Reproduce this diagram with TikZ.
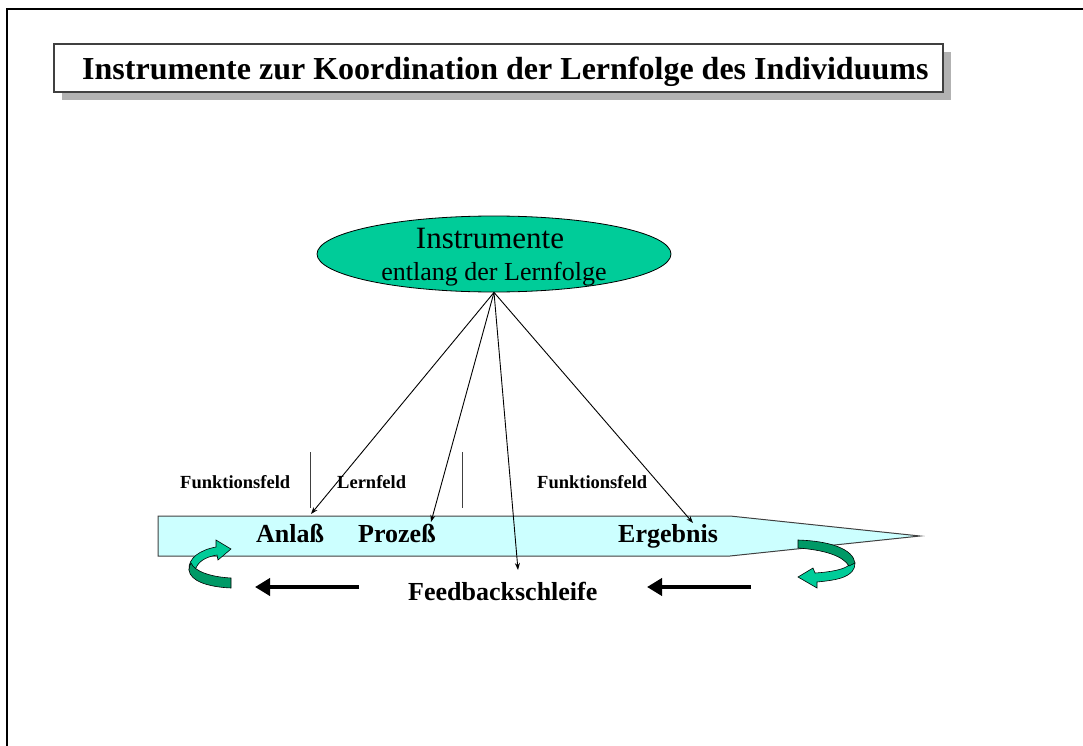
\documentclass[tikz,border=0pt]{standalone}
\usepackage{fontspec}
\setmainfont{Liberation Serif}
\usetikzlibrary{shapes.geometric,arrows.meta}

\definecolor{seagreen}{HTML}{00CC99}
\definecolor{darkseagreen}{HTML}{009966}
\definecolor{bandfill}{HTML}{CCFFFF}
\definecolor{shadowgray}{HTML}{B2B2B2}
\definecolor{edgegray}{HTML}{404040}

\tikzset{
  lbl/.style={inner sep=0pt, anchor=base west, font=\bfseries\fontsize{18.5}{20}\selectfont},
  stage/.style={inner sep=0pt, anchor=base west, font=\bfseries\fontsize{26}{28}\selectfont},
  pointer/.style={line width=0.9pt, -{Stealth[length=7pt,width=5pt]}},
  backflow/.style={line width=4pt, -{Triangle[length=15pt,width=17pt]}},
  divider/.style={line width=1pt, draw=edgegray},
  uturnfront/.style={fill=seagreen, draw=black, line width=0.6pt},
  uturnback/.style={fill=darkseagreen, draw=black, line width=0.6pt}
}

\begin{document}
\begin{tikzpicture}[x=1pt, y=-1pt]
\useasboundingbox (0,0) rectangle (1083,746);

% outer frame (left and top edges)
\draw[line width=2.2pt] (7,746) -- (7,9) -- (1083,9);

% title box with drop shadow
\fill[shadowgray] (62,52) rectangle (951,100);
\draw[fill=white, draw=edgegray, line width=1.5pt] (54,44) rectangle (943,92);
\node[inner sep=0pt, anchor=base west, font=\bfseries\fontsize{32}{34}\selectfont] (title) at (82,80)
  {Instrumente zur Koordination der Lernfolge des Individuums};

% central ellipse
\node[ellipse, fill=seagreen, draw=black, line width=0.8pt, minimum width=354pt, minimum height=76pt, inner sep=0pt] (instr) at (494,254) {};
\node[inner sep=0pt, anchor=base, font=\fontsize{31}{33}\selectfont] (instr1) at (490,248) {Instrumente};
\node[inner sep=0pt, anchor=base, font=\fontsize{26}{28}\selectfont] (instr2) at (494,280) {entlang der Lernfolge};

% learning sequence band
\draw[fill=bandfill, draw=edgegray, line width=1pt]
  (158,516) -- (730,516) -- (920,536) -- (730,556) -- (158,556) -- cycle;

% field dividers and labels
\draw[divider] (310,452) -- (310,508);
\draw[divider] (462,452) -- (462,508);
\node[lbl] (ff1) at (180,488) {Funktionsfeld};
\node[lbl] (lf)  at (337,488) {Lernfeld};
\node[lbl] (ff2) at (537,488) {Funktionsfeld};

% stage labels
\node[stage] (anlass)   at (256,542) {Anlaß};
\node[stage] (prozess)  at (358,542) {Prozeß};
\node[stage] (ergebnis) at (618,542) {Ergebnis};
\node[stage] (feedback) at (408,600) {Feedbackschleife};

% pointer targets
\coordinate (tAnlass) at (311,514);
\coordinate (tProzess) at (431,522);
\coordinate (tFeedback) at (518,570);
\coordinate (tErgebnis) at (693,523);

\draw[pointer] (instr.south) -- (tAnlass);
\draw[pointer] (instr.south) -- (tProzess);
\draw[pointer] (instr.south) -- (tFeedback);
\draw[pointer] (instr.south) -- (tErgebnis);

% feedback arrows
\coordinate (fbL1) at (359,587);
\coordinate (fbL2) at (255,587);
\coordinate (fbR1) at (751,587);
\coordinate (fbR2) at (647,587);
\draw[backflow] (fbL1) -- (fbL2);
\draw[backflow] (fbR1) -- (fbR2);

% left U-turn arrow
\path[uturnfront] (189,570) .. controls (188,558) and (200,550) .. (216,547)
  -- (216,540) -- (231,549) -- (218,560) -- (217,555)
  .. controls (205,557) and (197,562) .. (195,571) -- cycle;
\path[uturnback] (231,578) -- (231,588) .. controls (208,587) and (190,581) .. (189,570)
  .. controls (189,567) and (190,565) .. (191,563)
  .. controls (195,572) and (212,577) .. (231,578) -- cycle;

% right U-turn arrow
\path[uturnfront] (855,563) .. controls (855,577) and (838,580) .. (817,582)
  -- (817,588) -- (798,577) -- (813,568) -- (815,573)
  .. controls (832,572) and (845,569) .. (849,565) -- cycle;
\path[uturnback] (798,540) .. controls (830,541) and (853,549) .. (855,563)
  -- (849,566) .. controls (843,556) and (825,550) .. (798,548) -- cycle;
\end{tikzpicture}
\end{document}
